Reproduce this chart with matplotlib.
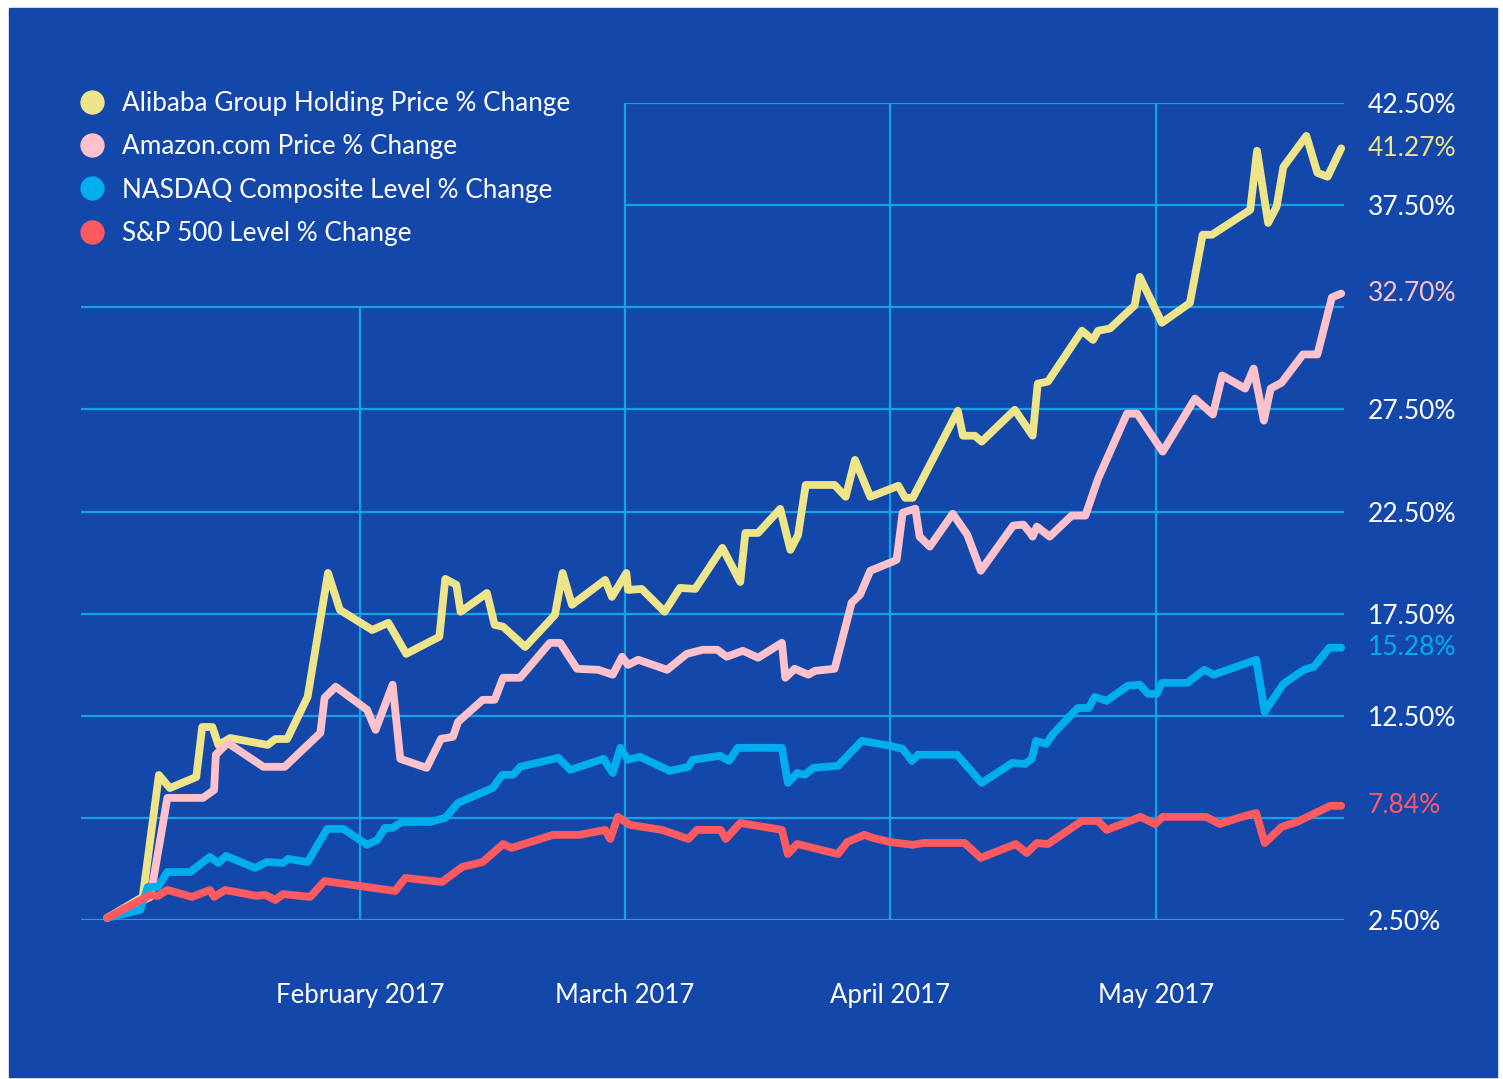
import matplotlib
matplotlib.use("Agg")
import matplotlib.pyplot as plt
from matplotlib.lines import Line2D
from matplotlib.patches import Rectangle

plt.rcParams['font.family'] = ['Lato', 'DejaVu Sans']

# series names and colours
names = ["Alibaba Group Holding Price % Change",
         "Amazon.com Price % Change",
         "NASDAQ Composite Level % Change",
         "S&P 500 Level % Change"]
colors = ["#EEE48A", "#FFC2CC", "#00ADEF", "#FF5A5F"]
end_labels = ["41.27%", "32.70%", "15.28%", "7.84%"]

# x = days since start of the series (early Jan 2017), y = % change
baba_days = [0, 4.2, 6.1, 7.4, 10.5, 11.2, 12.4, 13.1, 14.5, 18.9, 19.8, 21.2, 23.6, 26.0, 27.4,
             31.2, 33.1, 35.2, 39.1, 39.8, 41.1, 41.6, 44.7, 45.6, 46.6, 49.2, 52.7, 53.6, 54.7,
             58.6, 59.4, 61.1, 61.3, 62.9, 65.6, 67.4, 69.2, 72.4, 74.5, 75.1, 76.6, 79.2, 80.4,
             81.3, 82.2, 85.6, 86.9, 88.0, 89.8, 93.1, 93.9, 94.8, 100.1, 100.7, 102.1, 102.9,
             106.8, 108.9, 109.5, 110.7, 114.7, 116.0, 116.6, 118.0, 120.9, 121.5, 124.1, 127.4,
             128.9, 130.0, 134.5, 135.3, 136.6, 137.6, 138.4, 141.1, 142.4, 143.6, 145.2]
baba_vals = [2.6, 3.63, 9.60, 8.96, 9.50, 11.95, 11.95, 11.07, 11.41, 11.07, 11.36, 11.36, 13.42,
             19.49, 17.68, 16.70, 17.05, 15.53, 16.37, 19.20, 18.91, 17.59, 18.51, 16.95, 16.86,
             15.87, 17.44, 19.49, 17.93, 19.15, 18.32, 19.49, 18.66, 18.71, 17.59, 18.76, 18.71,
             20.72, 19.05, 21.45, 21.45, 22.63, 20.62, 21.35, 23.80, 23.80, 23.22, 25.03, 23.22,
             23.76, 23.17, 23.17, 27.43, 26.21, 26.21, 25.92, 27.48, 26.21, 28.76, 28.86, 31.35,
             30.90, 31.35, 31.46, 32.59, 33.99, 31.74, 32.71, 36.05, 36.05, 37.27, 40.16, 36.63,
             37.42, 39.37, 40.89, 39.08, 38.89, 40.28]

amzn_days = [0, 5.1, 7.1, 11.3, 12.6, 12.8, 14.2, 18.4, 20.9, 25.1, 25.6, 26.9, 30.6, 31.6, 33.6,
             34.5, 37.6, 39.3, 40.7, 41.3, 44.2, 45.6, 46.6, 48.6, 52.1, 53.3, 55.3, 57.8, 59.5,
             60.6, 61.3, 62.5, 65.9, 68.2, 70.1, 71.8, 72.9, 74.8, 76.6, 79.4, 79.8, 80.9, 82.5,
             83.3, 85.6, 87.6, 88.6, 89.8, 92.4, 92.9, 93.6, 95.1, 95.6, 96.8, 99.5, 101.2, 102.8,
             106.6, 107.8, 108.6, 108.9, 109.4, 110.9, 113.5, 115.1, 116.6, 120.0, 121.2, 124.2,
             128.0, 130.1, 131.2, 133.9, 134.9, 136.1, 136.9, 138.2, 140.7, 142.4, 144.1, 145.2]
amzn_vals = [2.6, 3.63, 8.48, 8.48, 8.87, 10.59, 11.17, 10.00, 10.00, 11.66, 13.38, 13.92, 12.79,
             11.81, 14.02, 10.39, 9.95, 11.37, 11.47, 12.20, 13.28, 13.28, 14.36, 14.36, 16.07,
             16.07, 14.80, 14.75, 14.51, 15.39, 14.99, 15.24, 14.75, 15.53, 15.73, 15.73, 15.39,
             15.68, 15.34, 16.07, 14.36, 14.80, 14.51, 14.70, 14.80, 18.03, 18.43, 19.60, 20.04,
             20.14, 22.44, 22.64, 21.27, 20.78, 22.39, 21.37, 19.60, 21.81, 21.86, 21.46, 21.27,
             21.76, 21.27, 22.30, 22.30, 24.11, 27.29, 27.29, 25.43, 28.03, 27.25, 29.16, 28.52,
             29.50, 26.95, 28.52, 28.81, 30.19, 30.19, 32.98, 33.17]

nasdaq_days = [0, 3.9, 4.8, 6.0, 7.1, 9.8, 12.1, 13.1, 14.0, 17.4, 18.8, 20.7, 21.3, 23.6, 25.9,
               27.8, 30.6, 31.8, 32.7, 33.6, 34.7, 38.0, 39.8, 41.3, 45.4, 46.5, 47.8, 48.6, 53.1,
               54.5, 58.4, 59.5, 60.4, 61.3, 62.7, 66.2, 68.4, 68.9, 72.1, 73.2, 74.2, 79.4, 80.1,
               81.2, 82.1, 83.1, 86.0, 88.8, 92.1, 93.6, 94.7, 95.4, 100.0, 102.9, 106.5, 108.0,
               108.8, 109.3, 110.5, 111.3, 114.2, 115.5, 116.2, 117.6, 120.1, 121.5, 122.5, 123.5,
               124.1, 127.1, 129.1, 130.2, 135.2, 136.2, 138.4, 140.8, 142.0, 143.8, 145.2]
nasdaq_vals = [2.6, 2.99, 4.12, 4.12, 4.85, 4.85, 5.59, 5.29, 5.64, 5.05, 5.34, 5.29, 5.49, 5.34,
               6.96, 6.96, 6.18, 6.42, 7.01, 7.01, 7.30, 7.30, 7.50, 8.23, 8.97, 9.61, 9.61, 10.00,
               10.44, 9.85, 10.39, 9.70, 10.93, 10.34, 10.49, 9.80, 10.00, 10.34, 10.54, 10.29,
               10.93, 10.93, 9.21, 9.70, 9.61, 9.95, 10.05, 11.27, 11.03, 10.88, 10.29, 10.59,
               10.59, 9.21, 10.19, 10.14, 10.39, 11.27, 11.12, 11.61, 12.88, 12.88, 13.42, 13.23,
               13.97, 14.02, 13.57, 13.57, 14.11, 14.11, 14.75, 14.51, 15.24, 12.69, 14.06, 14.75,
               14.90, 15.83, 15.83]

spx_days = [0, 5.1, 6.0, 7.1, 10.0, 12.1, 12.6, 13.9, 17.6, 18.6, 19.8, 20.7, 23.9, 25.6, 33.9,
            35.1, 39.4, 41.8, 44.2, 46.6, 47.6, 52.5, 55.6, 58.6, 59.2, 60.1, 61.5, 65.3, 68.4,
            69.4, 72.2, 72.8, 74.5, 79.4, 80.1, 81.2, 86.0, 87.1, 89.1, 90.1, 92.1, 94.8, 96.0,
            100.9, 102.8, 106.9, 108.2, 109.4, 110.7, 114.7, 116.6, 117.6, 121.6, 123.3, 124.2,
            129.3, 130.9, 133.1, 135.2, 136.2, 138.2, 140.0, 143.9, 145.2]
spx_vals = [2.6, 3.73, 3.68, 3.97, 3.63, 3.97, 3.63, 3.97, 3.68, 3.73, 3.48, 3.77, 3.63, 4.41,
            3.92, 4.56, 4.36, 5.10, 5.34, 6.22, 6.03, 6.67, 6.67, 6.91, 6.47, 7.55, 7.16, 6.91,
            6.47, 6.91, 6.91, 6.47, 7.25, 6.91, 5.73, 6.22, 5.73, 6.32, 6.67, 6.52, 6.32, 6.18,
            6.27, 6.27, 5.54, 6.22, 5.78, 6.27, 6.22, 7.35, 7.35, 6.91, 7.55, 7.20, 7.55, 7.55,
            7.20, 7.50, 7.74, 6.27, 7.06, 7.30, 8.09, 8.09]

# axis ticks
tick_days = [29.8, 60.9, 92.1, 123.4]
month_labels = ["February 2017", "March 2017", "April 2017", "May 2017"]
y_grid = [2.5, 7.5, 12.5, 17.5, 22.5, 27.5, 32.5, 37.5, 42.5]
y_labels = ["2.50%", "", "12.50%", "17.50%", "22.50%", "27.50%", "", "37.50%", "42.50%"]

days = [baba_days, amzn_days, nasdaq_days, spx_days]
vals = [baba_vals, amzn_vals, nasdaq_vals, spx_vals]

bg = "#1447AA"
grid_c = "#10A3E6"
W, H = 1503, 1079

fig = plt.figure(figsize=(W / 100, H / 100), dpi=100)
fig.patches.append(Rectangle((9 / W, 1 - 1077 / H), 1488 / W, 1069 / H,
                             transform=fig.transFigure, color=bg, zorder=-10))

ax = fig.add_axes([81 / W, 1 - 920 / H, 1263 / W, 817 / H])
ax.set_facecolor("none")
ax.set_xlim(-3.06, 145.53)
ax.set_ylim(2.5, 42.5)
for s in ax.spines.values():
    s.set_visible(False)

# grid lines, cut back where the legend sits
x0, x1 = ax.get_xlim()
for v in y_grid:
    start = tick_days[1] if v > 35 else x0
    ax.hlines(v, start, x1, color=grid_c, lw=1.6, zorder=1)
for i, d in enumerate(tick_days):
    top = 32.5 if i == 0 else 42.5
    ax.vlines(d, 2.5, top, color=grid_c, lw=1.6, zorder=1)

for d, v, c in zip(days, vals, colors):
    ax.plot(d, v, color=c, lw=5.6, solid_joinstyle="round", solid_capstyle="round",
            zorder=3, clip_on=False)

ax.yaxis.tick_right()
ax.set_yticks(y_grid, y_labels)
ax.tick_params(axis="y", length=0, pad=17, labelsize=19, labelcolor="white")
ax.set_xticks(tick_days, month_labels)
ax.tick_params(axis="x", length=0, pad=45.5, labelsize=18.5, labelcolor="white")

for v, lab, c in zip(vals, end_labels, colors):
    ax.annotate(lab, xy=(1, v[-1]), xycoords=("axes fraction", "data"),
                xytext=(17, 0), textcoords="offset points",
                ha="left", va="center", color=c, fontsize=19)

handles = [Line2D([], [], ls="none", marker="o", ms=16.5, mfc=c, mec=c) for c in colors]
fig.legend(handles, names, loc="upper left", bbox_to_anchor=(79 / W, 1 - 91 / H),
           frameon=False, borderpad=0, borderaxespad=0, handlelength=1.0,
           handletextpad=0.64, labelspacing=0.7, fontsize=18.8, labelcolor="white")

fig.savefig("out.png", dpi=100, facecolor="white")
